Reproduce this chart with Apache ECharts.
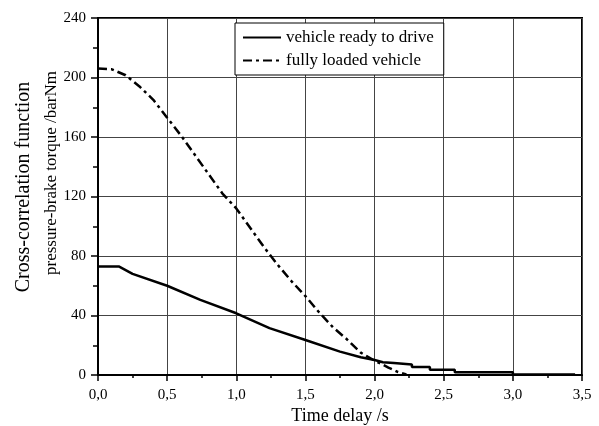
<!DOCTYPE html>
<html>
<head>
<meta charset="utf-8">
<script src="https://cdn.jsdelivr.net/npm/echarts@6/dist/echarts.min.js"></script>
<style>html,body{margin:0;padding:0;background:#fff;}#c{width:599px;height:426px;}</style>
</head>
<body>
<div id="c"></div>
<script>
var seriesNames = ['vehicle ready to drive', 'fully loaded vehicle'];

var readyT = [0, 0.15, 0.25, 0.5, 0.74, 1.0, 1.24, 1.5, 1.75, 1.9, 2.0, 2.06, 2.14, 2.14, 2.27, 2.27, 2.40, 2.40, 2.58, 2.58, 3.0, 3.0, 3.45];
var readyV = [73, 73, 68, 60, 50.5, 41.5, 31.5, 23.5, 15.7, 11.9, 10.1, 8.6, 8.0, 7.0, 7.0, 5.4, 5.4, 3.6, 3.6, 1.8, 1.8, 0.3, 0.3];

var loadedT = [0, 0.1, 0.2, 0.3, 0.4, 0.5, 0.6, 0.7, 0.8, 0.9, 1.0, 1.1, 1.2, 1.3, 1.4, 1.5, 1.6, 1.7, 1.8, 1.9, 2.0, 2.1, 2.17, 2.23];
var loadedV = [206, 205.5, 201.5, 194, 185, 173, 161, 148, 135, 122, 112, 99, 86, 74, 63, 53, 42, 32, 24, 15, 9.7, 5, 2, 0.3];

var xTicks = [0, 0.5, 1.0, 1.5, 2.0, 2.5, 3.0, 3.5];
var yTicks = [0, 40, 80, 120, 160, 200, 240];
var yTitle = ['Cross-correlation function', 'pressure-brake torque /barNm'];
var xTitle = 'Time delay /s';

function pairs(t, v) { return t.map(function (x, i) { return [x, v[i]]; }); }

var font = 'Liberation Serif';
var chart = echarts.init(document.getElementById('c'));
chart.setOption({
  animation: false,
  backgroundColor: '#fff',
  textStyle: { fontFamily: font, color: '#000' },
  grid: { left: 98, right: 17, top: 18, bottom: 51, containLabel: false, outerBoundsMode: 'none', show: true, borderColor: '#000', borderWidth: 2, backgroundColor: 'transparent' },
  legend: {
    orient: 'vertical', left: 235, top: 23,
    padding: [6, 10, 6, 7],
    itemWidth: 38, itemHeight: 14, itemGap: 6,
    backgroundColor: '#fff', borderColor: '#000', borderWidth: 1,
    itemStyle: { color: 'transparent', borderColor: 'transparent', borderWidth: 0, opacity: 0 },
    textStyle: { fontFamily: font, fontSize: 17, color: '#000' },
    data: seriesNames
  },
  xAxis: {
    type: 'value', min: xTicks[0], max: xTicks[xTicks.length - 1], interval: 0.5,
    name: xTitle, nameLocation: 'middle', nameGap: 32, nameMoveOverlap: false,
    nameTextStyle: { fontFamily: font, fontSize: 18, color: '#000' },
    axisLine: { show: true, lineStyle: { color: '#000', width: 2 } },
    axisTick: { show: true, inside: false, length: 6, lineStyle: { color: '#000', width: 1.5 } },
    minorTick: { show: true, splitNumber: 2, length: 3, lineStyle: { color: '#000', width: 1.5 } },
    splitLine: { show: true, lineStyle: { color: '#444', width: 1 } },
    axisLabel: { margin: 13, fontFamily: font, fontSize: 15, color: '#000', formatter: function (v) { return v.toFixed(1).replace('.', ','); } }
  },
  yAxis: {
    type: 'value', min: yTicks[0], max: yTicks[yTicks.length - 1], interval: 40,
    name: '{a|' + yTitle[0] + '}\n{b|' + yTitle[1] + '}', nameLocation: 'middle', nameGap: 32, nameMoveOverlap: false,
    nameTextStyle: {
      fontFamily: font, color: '#000',
      rich: {
        a: { fontFamily: font, fontSize: 20, lineHeight: 28, color: '#000', padding: [0, 0, 0, 19] },
        b: { fontFamily: font, fontSize: 17, lineHeight: 28, color: '#000', padding: [0, 0, 0, 47] }
      }
    },
    axisLine: { show: true, lineStyle: { color: '#000', width: 2 } },
    axisTick: { show: true, inside: false, length: 7, lineStyle: { color: '#000', width: 1.5 } },
    minorTick: { show: true, splitNumber: 2, length: 5, lineStyle: { color: '#000', width: 1.5 } },
    splitLine: { show: true, lineStyle: { color: '#444', width: 1 } },
    axisLabel: { margin: 12, fontFamily: font, fontSize: 15, color: '#000' }
  },
  series: [
    {
      name: seriesNames[0], type: 'line', showSymbol: false, symbol: 'none',
      data: pairs(readyT, readyV),
      lineStyle: { color: '#000', width: 2.5, type: 'solid' },
      itemStyle: { color: '#000' }
    },
    {
      name: seriesNames[1], type: 'line', showSymbol: false, symbol: 'none',
      data: pairs(loadedT, loadedV),
      lineStyle: { color: '#000', width: 2.5, type: [9, 4, 3, 4] },
      itemStyle: { color: '#000' }
    }
  ]
});
</script>
</body>
</html>
